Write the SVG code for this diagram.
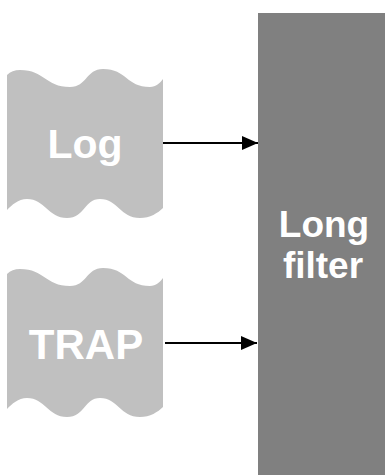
<svg xmlns="http://www.w3.org/2000/svg" width="385" height="475" viewBox="0 0 385 475">
<defs>
<style>
.tape{fill:#C0C0C0;stroke:none}
.lbl{fill:#FFFFFF;font-family:"Liberation Sans",Arial,sans-serif;font-weight:bold;text-anchor:middle}
.conn{stroke:#000;stroke-width:2;fill:none}
</style>
<marker id="ah" viewBox="0 0 16 14" refX="16" refY="7" markerWidth="16" markerHeight="14" markerUnits="userSpaceOnUse" orient="auto">
<path d="M0,0 L16,7 L0,14 Z" fill="#000"/>
</marker>
<path id="tapeShape" d="M7,75 Q12,70 20,70 C45,70 45,87 70,87 C87,87 86,69 103,69 C127,69 126,87 150,87 C156,87 160,83 163,79 L163,208 C158,213 150,218 140,218 C120,218 118,199 100,199 C84,199 85,218 67,218 C48,218 45,199 27,199 C18,199 12,205 7,210 Z"/>
</defs>
<rect width="385" height="475" fill="#FFFFFF"/>
<g id="log">
<use href="#tapeShape" class="tape"/>
<text class="lbl" x="85" y="158" font-size="41">Log</text>
</g>
<g id="trap">
<use href="#tapeShape" class="tape" transform="translate(0,199)"/>
<text class="lbl" x="86" y="359" font-size="42">TRAP</text>
</g>
<g id="long-filter">
<rect x="258" y="13" width="127" height="462" fill="#808080"/>
<text class="lbl" x="324" y="237" font-size="37">Long</text>
<text class="lbl" x="323" y="278" font-size="37">filter</text>
</g>
<g id="connectors">
<line class="conn" x1="163" y1="143" x2="258" y2="143" marker-end="url(#ah)"/>
<line class="conn" x1="165" y1="343" x2="257" y2="343" marker-end="url(#ah)"/>
</g>
</svg>
